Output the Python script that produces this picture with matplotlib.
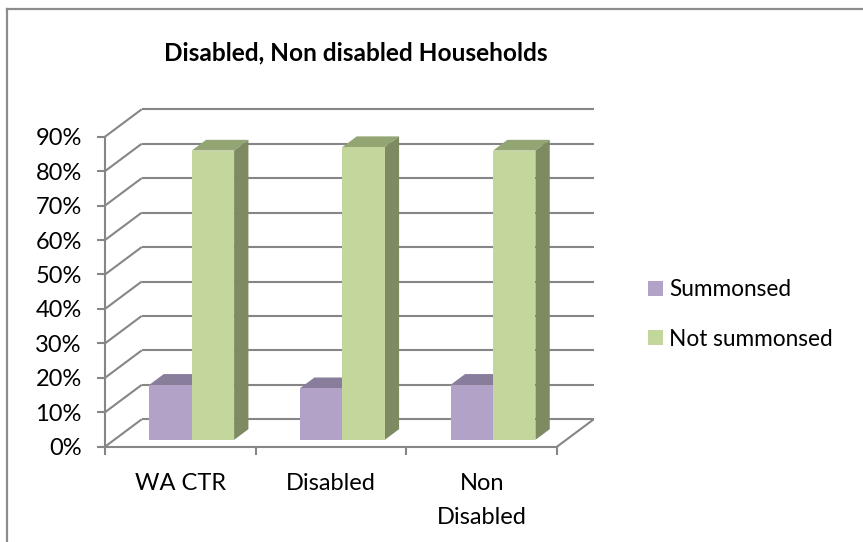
import matplotlib
matplotlib.use("Agg")
import matplotlib.pyplot as plt
from matplotlib.patches import Patch
from matplotlib.lines import Line2D

# ---- data ----
categories = ["WA CTR", "Disabled", "Non\nDisabled"]
series_names = ["Summonsed", "Not summonsed"]
summonsed = [16, 15, 16]
not_summonsed = [84, 85, 84]
y_ticks = [0, 10, 20, 30, 40, 50, 60, 70, 80, 90]
y_tick_labels = [f"{v}%" for v in y_ticks]

# ---- style ----
FONT = ["Lato", "DejaVu Sans"]
plt.rcParams['font.family'] = FONT
GRID = "#868686"
front_cols = ["#B3A2C7", "#C3D69B"]
top_cols = ["#887D9B", "#93A572"]
side_cols = ["#7D7191", "#7E8A62"]

W, H = 863, 542
fig = plt.figure(figsize=(W / 100, H / 100), dpi=100)

# front plane of the 3-D box
ax = fig.add_axes([105 / W, 1 - 446.7 / H, 452 / W, 310 / H])
ax.set_xlim(0, 3)
ax.set_ylim(0, 90)
ax.patch.set_alpha(0)

# oblique depth offset in data units
DX = 0.2436
DY = 7.955

# walls / gridlines
gkw = dict(color=GRID, lw=1.5, clip_on=False, zorder=1, solid_capstyle='butt')
for v in y_ticks:
    ax.plot([0, DX], [v, v + DY], **gkw)
    ax.plot([DX, 3 + DX], [v + DY, v + DY], **gkw)
ax.plot([3, 3 + DX], [0, DY], **gkw)

# spines / ticks
for s in ["top", "right"]:
    ax.spines[s].set_visible(False)
for s in ["left", "bottom"]:
    ax.spines[s].set_color(GRID)
    ax.spines[s].set_linewidth(1.5)
    ax.spines[s].set_zorder(1)

ax.set_yticks(y_ticks)
ax.set_yticklabels(y_tick_labels)
ax.tick_params(axis='y', length=5.8, width=1.5, color=GRID, pad=11,
               labelsize=17, labelcolor='black')
ax.set_xticks([0, 1, 2, 3])
ax.set_xticklabels([])
ax.set_xticks([0.5, 1.5, 2.5], minor=True)
ax.set_xticklabels(categories, minor=True)
ax.tick_params(axis='x', which='major', length=5.8, width=1.5, color=GRID)
ax.tick_params(axis='x', which='minor', length=0, pad=19, labelsize=17,
               labelcolor='black')
for t in ax.get_xticklabels(minor=True):
    t.set_linespacing(1.75)

# 3-D bars
z0, z1 = 0.25, 0.64
bw = 0.281
left0 = 0.234
x = range(len(categories))
for si, vals in enumerate([summonsed, not_summonsed]):
    lefts = [i + left0 + si * bw for i in x]
    ax.bar([l + z0 * DX for l in lefts], vals, width=bw, bottom=z0 * DY,
           align='edge', color=front_cols[si], clip_on=False, zorder=3 + si * 3,
           linewidth=0)
    for l, v in zip(lefts, vals):
        r = l + bw
        # top face
        ax.fill([l + z0 * DX, r + z0 * DX, r + z1 * DX, l + z1 * DX],
                [v + z0 * DY, v + z0 * DY, v + z1 * DY, v + z1 * DY],
                color=top_cols[si], clip_on=False, zorder=2 + si * 3, lw=0)
        # side face
        ax.fill([r + z0 * DX, r + z1 * DX, r + z1 * DX, r + z0 * DX],
                [z0 * DY, z1 * DY, v + z1 * DY, v + z0 * DY],
                color=side_cols[si], clip_on=False, zorder=2 + si * 3, lw=0)

# title
fig.text(356 / W, 1 - 53 / H, "Disabled, Non disabled Households",
         ha='center', va='center', fontsize=17.6, fontweight='bold')

# legend
handles = [Patch(facecolor=c, edgecolor='none') for c in front_cols]
fig.legend(handles, series_names, loc='center left',
           bbox_to_anchor=(648 / W, 1 - 314.5 / H), frameon=False,
           fontsize=16.3, handlelength=0.66, handleheight=0.66,
           handletextpad=0.28, labelspacing=1.25, borderpad=0,
           borderaxespad=0)

# chart frame (partially cropped)
fkw = dict(color="#8C8C8C", lw=1.6, transform=fig.transFigure)
fig.add_artist(Line2D([6.7 / W, 1.0], [1 - 9.3 / H, 1 - 9.3 / H], **fkw))
fig.add_artist(Line2D([6.7 / W, 6.7 / W], [0, 1 - 9.3 / H], **fkw))

fig.savefig("out.png", dpi=100)
